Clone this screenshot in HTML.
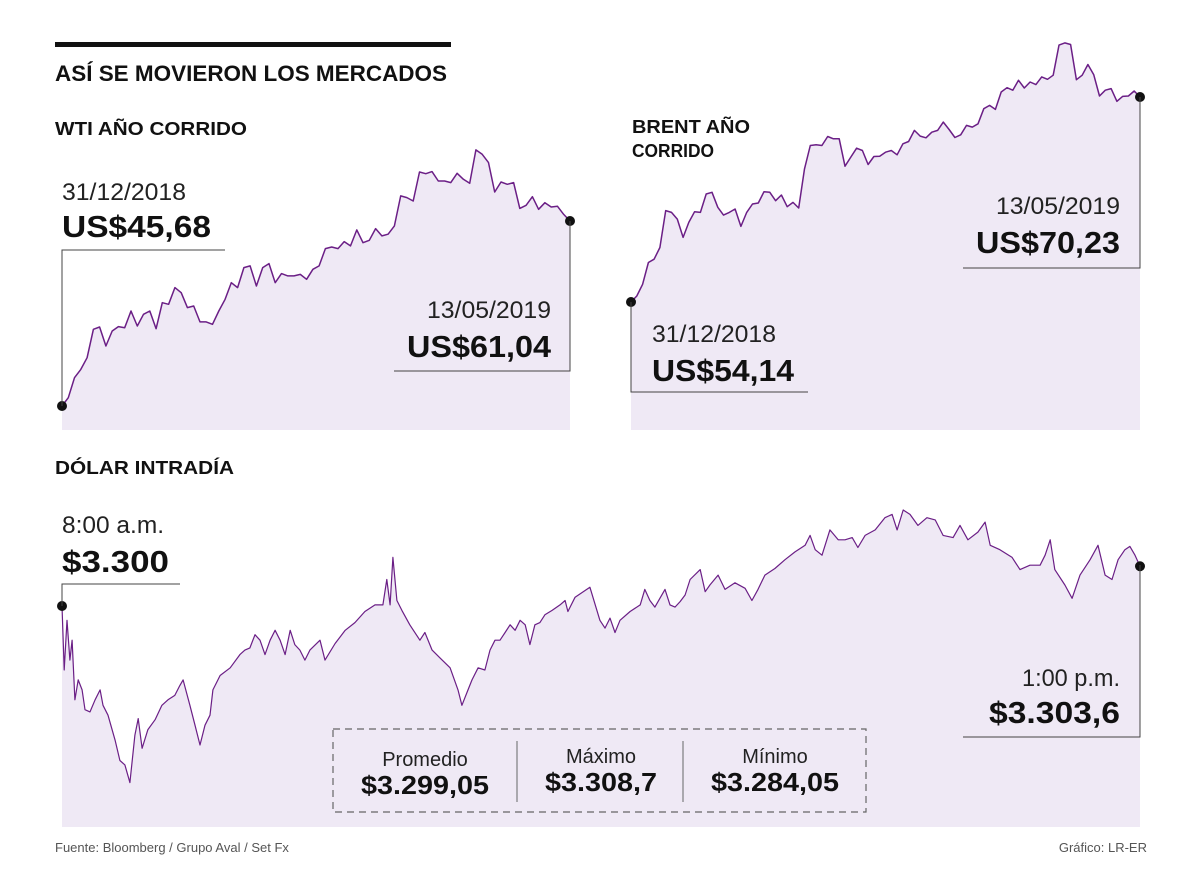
<!DOCTYPE html>
<html><head><meta charset="utf-8">
<style>
html,body{margin:0;padding:0;background:#fff;}
svg{display:block;font-family:"Liberation Sans",sans-serif;}
.lt{font-weight:300;fill:#222;}
.bd{font-weight:bold;fill:#111;}
</style></head>
<body>
<svg id="chart" width="1200" height="896" viewBox="0 0 1200 896">
  <rect x="55" y="42" width="396" height="5" fill="#111"/>
  <text x="55" y="81" class="bd" font-size="22" textLength="392" lengthAdjust="spacingAndGlyphs">ASÍ SE MOVIERON LOS MERCADOS</text>
  <text x="55" y="135" class="bd" font-size="18" textLength="192" lengthAdjust="spacingAndGlyphs">WTI AÑO CORRIDO</text>
  <text x="632" y="133" class="bd" font-size="18" textLength="118" lengthAdjust="spacingAndGlyphs">BRENT AÑO</text>
  <text x="632" y="157" class="bd" font-size="18" textLength="82" lengthAdjust="spacingAndGlyphs">CORRIDO</text>
  <text x="55" y="474" class="bd" font-size="18" textLength="179" lengthAdjust="spacingAndGlyphs">DÓLAR INTRADÍA</text>

  <g id="wti"></g>
  <g id="brent"></g>
  <g id="usd"></g>

  <g fill="none" stroke="#444" stroke-width="1">
    <polyline points="225,250 62,250 62,406"/>
    <polyline points="394,371 570,371 570,221"/>
    <polyline points="808,392 631,392 631,302"/>
    <polyline points="963,268 1140,268 1140,97"/>
    <polyline points="180,584 62,584 62,606"/>
    <polyline points="963,737 1140,737 1140,565"/>
  </g>

  <text x="62" y="200" class="lt" font-size="24" textLength="124" lengthAdjust="spacingAndGlyphs">31/12/2018</text>
  <text x="62" y="237" class="bd" font-size="31" textLength="149" lengthAdjust="spacingAndGlyphs">US$45,68</text>
  <text x="427" y="318" class="lt" font-size="24" textLength="124" lengthAdjust="spacingAndGlyphs">13/05/2019</text>
  <text x="407" y="357" class="bd" font-size="31" textLength="144" lengthAdjust="spacingAndGlyphs">US$61,04</text>

  <text x="652" y="342" class="lt" font-size="24" textLength="124" lengthAdjust="spacingAndGlyphs">31/12/2018</text>
  <text x="652" y="381" class="bd" font-size="31" textLength="142" lengthAdjust="spacingAndGlyphs">US$54,14</text>
  <text x="996" y="214" class="lt" font-size="24" textLength="124" lengthAdjust="spacingAndGlyphs">13/05/2019</text>
  <text x="976" y="253" class="bd" font-size="31" textLength="144" lengthAdjust="spacingAndGlyphs">US$70,23</text>

  <text x="62" y="533" class="lt" font-size="24" textLength="102" lengthAdjust="spacingAndGlyphs">8:00 a.m.</text>
  <text x="62" y="572" class="bd" font-size="31" textLength="107" lengthAdjust="spacingAndGlyphs">$3.300</text>
  <text x="1022" y="686" class="lt" font-size="24" textLength="98" lengthAdjust="spacingAndGlyphs">1:00 p.m.</text>
  <text x="989" y="723" class="bd" font-size="31" textLength="131" lengthAdjust="spacingAndGlyphs">$3.303,6</text>

  <g>
    <rect x="333" y="729" width="533" height="83" fill="none" stroke="#666" stroke-width="1.2" stroke-dasharray="7,5"/>
    <line x1="517" y1="741" x2="517" y2="802" stroke="#666"/>
    <line x1="683" y1="741" x2="683" y2="802" stroke="#666"/>
    <text x="425" y="766" class="lt" font-size="20" text-anchor="middle">Promedio</text>
    <text x="425" y="794" class="bd" font-size="26" text-anchor="middle" textLength="128" lengthAdjust="spacingAndGlyphs">$3.299,05</text>
    <text x="601" y="763" class="lt" font-size="20" text-anchor="middle">Máximo</text>
    <text x="601" y="791" class="bd" font-size="26" text-anchor="middle" textLength="112" lengthAdjust="spacingAndGlyphs">$3.308,7</text>
    <text x="775" y="763" class="lt" font-size="20" text-anchor="middle">Mínimo</text>
    <text x="775" y="791" class="bd" font-size="26" text-anchor="middle" textLength="128" lengthAdjust="spacingAndGlyphs">$3.284,05</text>
  </g>

  <text x="55" y="852" font-size="13" fill="#555">Fuente: Bloomberg / Grupo Aval / Set Fx</text>
  <text x="1147" y="852" font-size="13" fill="#555" text-anchor="end">Gráfico: LR-ER</text>
</svg>
<script>
const wtiValues = [45.68,46.37,48.03,48.72,49.69,52.05,52.24,50.66,51.91,52.27,52.18,53.57,52.32,53.29,53.57,52.10,54.26,54.12,55.51,55.09,53.85,53.98,52.66,52.66,52.46,53.57,54.54,55.92,55.51,57.17,57.31,55.64,57.17,57.50,55.92,56.67,56.48,56.48,56.61,56.20,57.03,57.31,58.75,58.88,58.75,59.33,58.97,60.30,59.24,59.44,60.41,59.80,59.94,60.63,63.12,62.98,62.70,65.11,64.97,65.14,64.36,64.36,64.23,65.00,64.50,64.17,66.94,66.58,65.89,63.45,64.28,64.09,64.23,62.09,62.34,63.06,62.01,62.56,62.20,62.26,61.59,61.04];
const brentValues = [54.14,54.61,55.53,57.24,57.50,58.42,61.31,61.17,60.65,59.21,60.39,61.23,61.17,62.62,62.75,61.57,60.96,61.17,61.44,60.07,61.17,61.83,61.91,62.80,62.75,62.09,62.54,61.62,61.96,61.52,64.59,66.42,66.48,66.42,67.13,66.95,66.95,64.80,65.51,66.21,66.03,64.93,65.56,65.58,65.90,66.03,65.69,66.56,66.74,67.61,67.16,67.03,67.47,67.61,68.26,67.68,67.05,67.26,68.00,67.87,68.13,69.31,69.57,69.26,70.62,70.96,70.76,71.54,70.94,71.41,71.20,71.81,71.62,71.94,74.30,74.48,74.35,71.59,71.94,72.78,71.99,70.31,70.76,70.89,69.89,70.28,70.31,70.70,70.23];
const usdMinutes = [0,0.6,1.4,2.2,2.8,3.6,4.5,5.6,6.4,7.8,9.2,10.6,11.4,12.8,14.8,16.1,17.5,18.9,20.3,21.2,22.3,23.9,25.9,27.8,29.5,31.4,32.8,33.7,35.6,37.0,38.4,39.8,41.2,42.0,44.0,46.8,49.5,50.9,52.3,53.7,55.1,56.5,57.9,59.3,60.7,62.1,63.5,64.8,66.2,67.6,69.0,71.8,73.2,76.0,78.8,81.5,84.3,87.1,89.3,90.4,91.3,92.1,93.2,94.6,96.8,99.6,101.0,103.0,105.2,108.0,110.2,111.3,113.0,114.1,115.8,117.7,119.1,120.5,121.9,123.3,124.7,126.1,127.5,128.9,130.2,131.6,133.0,134.4,136.4,138.6,140.0,140.8,142.8,146.9,149.7,151.1,152.5,153.9,155.3,158.1,160.9,162.2,163.6,165.0,166.4,167.8,169.2,170.6,172.0,173.4,174.8,177.6,179.0,180.3,182.6,184.5,187.3,190.1,192.0,193.7,195.6,198.4,201.2,204.0,206.8,208.2,209.6,211.5,213.7,216.0,217.9,219.9,221.5,223.5,226.3,229.0,231.0,232.4,234.1,236.0,238.2,240.7,243.0,245.2,248.0,249.9,252.1,254.9,256.9,258.3,261.0,264.4,266.6,269.4,272.2,273.6,275.0,276.3,279.1,281.1,283.3,286.1,288.3,290.3,292.2,293.9,295.8,297.2,298.6,300];
const usdValues = [3300.0,3294.2,3298.7,3295.1,3296.9,3291.5,3293.3,3292.4,3290.6,3290.4,3291.5,3292.4,3291.0,3290.1,3287.8,3286.0,3285.6,3284.0,3288.3,3289.8,3287.1,3288.8,3289.7,3291.0,3291.5,3291.9,3292.8,3293.3,3291.0,3289.2,3287.4,3289.2,3290.1,3292.4,3293.7,3294.4,3295.6,3296.0,3296.2,3297.4,3296.9,3295.6,3296.9,3297.8,3296.9,3295.6,3297.8,3296.5,3296.0,3295.1,3296.0,3296.9,3295.1,3296.6,3297.8,3298.5,3299.5,3300.1,3300.1,3302.4,3300.1,3304.4,3300.5,3299.6,3298.3,3296.9,3297.6,3296.0,3295.3,3294.4,3292.4,3291.0,3292.4,3293.3,3294.4,3294.2,3296.0,3296.9,3296.9,3297.6,3298.3,3297.8,3298.7,3298.3,3296.5,3298.3,3298.5,3299.2,3299.6,3300.1,3300.5,3299.5,3300.8,3301.7,3298.7,3298.0,3298.9,3297.6,3298.7,3299.5,3300.1,3301.5,3300.5,3299.9,3300.7,3301.5,3300.1,3299.9,3300.4,3301.0,3302.4,3303.3,3301.3,3301.9,3302.8,3301.5,3302.1,3301.6,3300.5,3301.5,3302.8,3303.4,3304.2,3304.9,3305.5,3306.4,3305.1,3304.6,3306.9,3306.0,3306.0,3306.2,3305.3,3306.4,3306.9,3308.0,3308.3,3306.9,3308.7,3308.3,3307.3,3308.0,3307.8,3306.4,3306.2,3307.3,3306.0,3306.7,3307.6,3305.5,3305.1,3304.4,3303.3,3303.7,3303.7,3304.6,3306.0,3303.3,3301.9,3300.7,3302.8,3304.2,3305.5,3302.8,3302.4,3304.2,3305.1,3305.4,3304.6,3303.6];

const NS = 'http://www.w3.org/2000/svg';
const FILL = '#efe9f5', LINE = '#6b1f86';

function drawSeries(gid, xs, vals, x0, x1, xMin, xMax, vA, yA, vB, yB, bottom, kind) {
  const g = document.getElementById(gid);
  const xScale = v => x0 + (v - xMin) / (xMax - xMin) * (x1 - x0);
  const yScale = v => yA + (v - vA) / (vB - vA) * (yB - yA);
  const pts = vals.map((v, i) => [xScale(xs[i]), yScale(v)]);
  const line = pts.map((p, i) => (i ? 'L' : 'M') + p[0].toFixed(1) + ',' + p[1].toFixed(1)).join('');
  const area = document.createElementNS(NS, 'path');
  area.setAttribute('d', line + 'L' + pts[pts.length - 1][0].toFixed(1) + ',' + bottom + 'L' + pts[0][0].toFixed(1) + ',' + bottom + 'Z');
  area.setAttribute('fill', FILL);
  
  
  g.appendChild(area);
  const ln = document.createElementNS(NS, 'path');
  ln.setAttribute('d', line);
  ln.setAttribute('fill', 'none');
  ln.setAttribute('stroke', LINE);
  ln.setAttribute('stroke-width', kind === 'dollar' ? '1.2' : '1.5');
  ln.setAttribute('stroke-linejoin', 'round');
  
  
  g.appendChild(ln);
  [pts[0], pts[pts.length - 1]].forEach((p, k) => {
    const c = document.createElementNS(NS, 'circle');
    c.setAttribute('cx', p[0]); c.setAttribute('cy', p[1]); c.setAttribute('r', 5);
    c.setAttribute('fill', '#111');
    
    
    g.appendChild(c);
  });
}
const idxW = wtiValues.map((_, i) => i);
const idxB = brentValues.map((_, i) => i);
drawSeries('wti', idxW, wtiValues, 62, 570, 0, idxW.length - 1, 45.68, 406, 61.04, 221, 430, 'wti');
drawSeries('brent', idxB, brentValues, 631, 1140, 0, idxB.length - 1, 54.14, 302, 70.23, 97, 430, 'brent');
drawSeries('usd', usdMinutes, usdValues, 62, 1140, 0, 300, 3284.05, 782, 3308.7, 510, 827, 'dollar');
const svg = document.getElementById('chart');
['wti','brent','usd'].forEach(id => { const g = document.getElementById(id); svg.insertBefore(g, svg.children[6]); });
</script>
</body></html>
